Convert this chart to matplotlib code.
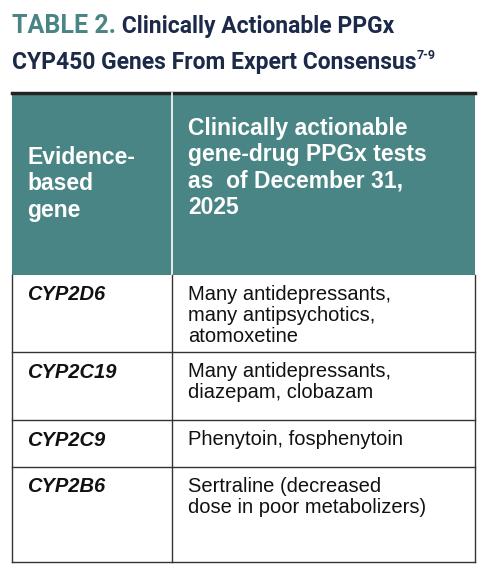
import matplotlib.pyplot as plt
from matplotlib.patches import Rectangle

title_lead = "TABLE 2."
title_rest1 = " Clinically Actionable PPGx"
title_rest2 = "CYP450 Genes From Expert Consensus"
header = ["Evidence-\nbased\ngene", "Clinically actionable\ngene-drug PPGx tests\nas  of December 31,\n2025"]
genes = ["CYP2D6", "CYP2C19", "CYP2C9", "CYP2B6"]
drugs = ["Many antidepressants,\nmany antipsychotics,\natomoxetine",
         "Many antidepressants,\ndiazepam, clobazam",
         "Phenytoin, fosphenytoin",
         "Sertraline (decreased\ndose in poor metabolizers)"]
row_edges = [275, 352, 420, 467, 562]

W, H = 486, 576
fig = plt.figure(figsize=(W / 100, H / 100), dpi=100)
ax = fig.add_axes([0, 0, 1, 1])
ax.set_xlim(0, W)
ax.set_ylim(H, 0)
ax.axis("off")

teal = "#4a8585"
navy = "#1c2a4a"
x0, xm, x1 = 12, 172, 475
font = "Liberation Sans"

# title
t = ax.text(12, 26, title_lead, color=teal, fontsize=18, fontweight="bold",
            family="Roboto", va="center")
ax.annotate(title_rest1, xycoords=t, xy=(1, 0.5), va="center", color=navy,
            fontsize=16.5, fontweight="bold", family="Roboto")
t2 = ax.text(12, 62, title_rest2, color=navy, fontsize=16.5, fontweight="bold",
             family="Roboto", va="center")
ax.annotate("7-9", xycoords=t2, xy=(1, 0.8), va="center", color=navy,
            fontsize=9, fontweight="bold", family="Roboto")

# header
ax.add_patch(Rectangle((x0, 93), x1 - x0, row_edges[0] - 93, color=teal, lw=0))
ax.plot([x0, x1], [93, 93], color="#222222", lw=2.5)
ax.plot([xm, xm], [93, row_edges[0]], color="white", lw=1.2)
ax.text(27, 184, header[0], color="white", fontsize=16.5, fontweight="bold",
        family=font, va="center", linespacing=1.2)
ax.text(188, 168, header[1], color="white", fontsize=16.5, fontweight="bold",
        family=font, va="center", linespacing=1.2)

# body
for i, (g, d) in enumerate(zip(genes, drugs)):
    top, bot = row_edges[i], row_edges[i + 1]
    ax.text(27, top + 20, g, fontsize=14.5, fontweight="bold", style="italic",
            family=font, va="center", color="#111111")
    ax.text(188, top + 10, d, fontsize=14.5, family=font, va="top",
            color="#111111", linespacing=1.15)
    ax.plot([x0, x1], [bot, bot], color="#333333", lw=1)
ax.plot([xm, xm], [row_edges[0], row_edges[-1]], color="#333333", lw=1)
ax.plot([x0, x0], [row_edges[0], row_edges[-1]], color="#333333", lw=1)
ax.plot([x1, x1], [row_edges[0], row_edges[-1]], color="#333333", lw=1)

fig.savefig("out.png", dpi=100)
